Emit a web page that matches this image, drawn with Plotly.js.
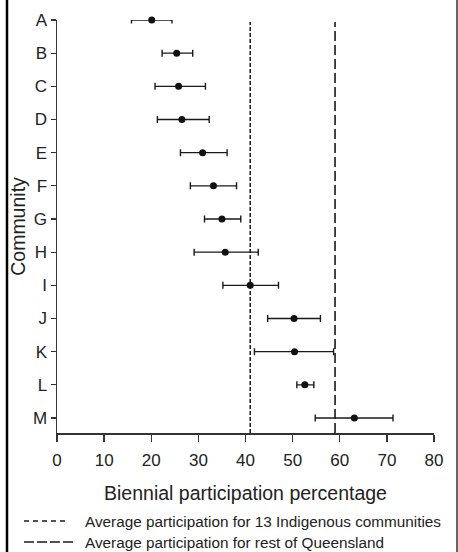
<!DOCTYPE html>
<html>
<head>
<meta charset="utf-8">
<script src="https://cdn.plot.ly/plotly-3.0.1.min.js"></script>
<style>
html,body{margin:0;padding:0;background:#fff;}
#chart{width:458px;height:552px;}
</style>
</head>
<body>
<div id="chart"></div>
<script>
// Data
const communities = ["A","B","C","D","E","F","G","H","I","J","K","L","M"];
const meanPct  = [20.1, 25.4, 25.8, 26.5, 30.9, 33.2, 35.0, 35.7, 41.0, 50.3, 50.4, 52.6, 63.1];
const lowerPct = [15.8, 22.3, 20.8, 21.3, 26.2, 28.3, 31.3, 29.1, 35.2, 44.7, 41.9, 50.9, 54.8];
const upperPct = [24.4, 28.8, 31.5, 32.3, 36.1, 38.1, 39.0, 42.7, 47.0, 55.9, 58.7, 54.5, 71.3];
const avgIndigenous = 41;
const avgRestQld = 59;
const xTicks = [0, 10, 20, 30, 40, 50, 60, 70, 80];
const legendLabels = [
  "Average participation for 13 Indigenous communities",
  "Average participation for rest of Queensland"
];

const n = communities.length;
const yPos = communities.map((c, i) => n - 1 - i);
const plus = upperPct.map((u, i) => u - meanPct[i]);
const minus = meanPct.map((m, i) => m - lowerPct[i]);

const FONT = "Liberation Sans, Arial, Helvetica, sans-serif";
const TXT = "#222";
const yLo = -0.452, yHi = n - 1;
const lineTop = yHi - 0.06;

// pixel helpers for paper placement of the outer frame / legend
const plotL = 57, plotW = 377, plotT = 20, plotH = 413;
const px = v => (v - plotL) / plotW;
const py = v => (plotT + plotH - v) / plotH;

const dashShort = "4px,2px";
const dashLong = "10px,4px";

const traces = [
  {
    type: "scatter", mode: "lines",
    x: [avgIndigenous, avgIndigenous], y: [yLo, lineTop],
    line: {color: "#1a1a1a", width: 1.5, dash: dashShort},
    showlegend: false, hoverinfo: "skip"
  },
  {
    type: "scatter", mode: "lines",
    x: [avgRestQld, avgRestQld], y: [yLo, lineTop],
    line: {color: "#1a1a1a", width: 1.6, dash: dashLong},
    showlegend: false, hoverinfo: "skip"
  },
  {
    type: "scatter", mode: "markers",
    x: meanPct, y: yPos,
    marker: {color: "#111", size: 7, symbol: "circle"},
    error_x: {type: "data", symmetric: false, array: plus, arrayminus: minus,
              color: "#1a1a1a", thickness: 1.4, width: 3.5},
    cliponaxis: false,
    showlegend: false
  }
];

const legendRows = [521, 542];
const annotations = legendLabels.map((t, i) => ({
  xref: "paper", yref: "paper", x: px(83), y: py(legendRows[i]),
  xanchor: "left", yanchor: "middle", showarrow: false,
  text: t, font: {family: FONT, size: 15.3, color: TXT}
}));

const layout = {
  width: 458, height: 552,
  margin: {l: plotL, r: 458 - plotL - plotW, t: plotT, b: 552 - plotT - plotH},
  paper_bgcolor: "#fff", plot_bgcolor: "#fff",
  font: {family: FONT, color: TXT, size: 17},
  showlegend: false,
  xaxis: {
    range: [0, 80], tickvals: xTicks, ticktext: xTicks.map(String),
    showgrid: false, zeroline: false, automargin: false,
    showline: true, linecolor: "#333", linewidth: 1.5,
    ticks: "outside", ticklen: 7, tickwidth: 1.3, tickcolor: "#333",
    ticklabelstandoff: 4,
    tickfont: {size: 17, family: FONT, color: TXT},
    title: {text: "Biennial participation percentage", font: {size: 19.5, family: FONT, color: TXT}, standoff: 17},
    fixedrange: true
  },
  yaxis: {
    range: [yLo, yHi],
    tickvals: yPos, ticktext: communities,
    showgrid: false, zeroline: false, automargin: false,
    showline: true, linecolor: "#333", linewidth: 1.5,
    ticks: "outside", ticklen: 5, tickwidth: 1.3, tickcolor: "#333",
    tickfont: {size: 17, family: FONT, color: TXT},
    title: {text: "Community", font: {size: 19.5, family: FONT, color: TXT}, standoff: 2},
    fixedrange: true
  },
  annotations: annotations,
  shapes: [
    {type: "line", xref: "paper", yref: "paper", x0: px(7), x1: px(7), y0: py(553), y1: py(-1),
     line: {color: "#000", width: 2.5}},
    {type: "line", xref: "paper", yref: "paper", x0: px(457), x1: px(457), y0: py(553), y1: py(-1),
     line: {color: "#000", width: 1.2}},
    {type: "line", xref: "paper", yref: "paper", x0: px(24), x1: px(69), y0: py(legendRows[0]), y1: py(legendRows[0]),
     line: {color: "#1a1a1a", width: 1.4, dash: "5px,4px"}},
    {type: "line", xref: "paper", yref: "paper", x0: px(24), x1: px(73), y0: py(legendRows[1]), y1: py(legendRows[1]),
     line: {color: "#1a1a1a", width: 1.5, dash: "10px,3px"}}
  ]
};

Plotly.newPlot("chart", traces, layout, {displayModeBar: false, staticPlot: true});
</script>
</body>
</html>
